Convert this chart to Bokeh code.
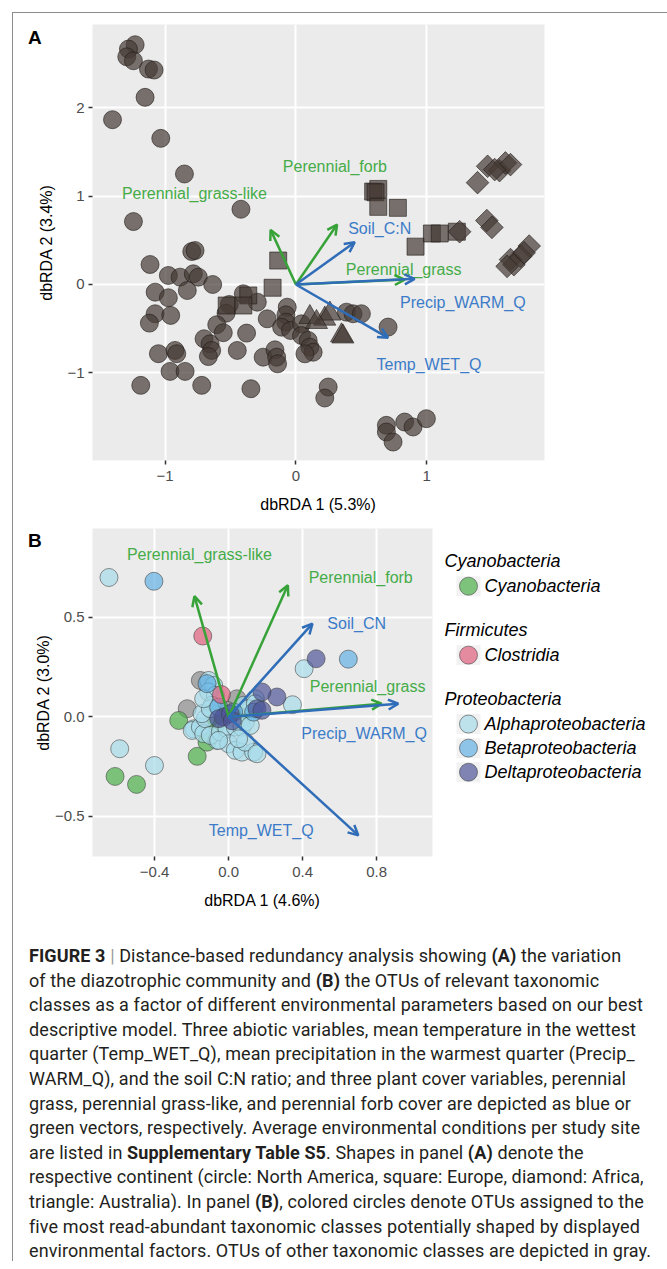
from bokeh.plotting import figure
from bokeh.models import ColumnDataSource, Arrow, OpenHead, FixedTicker, Range1d, Div
from bokeh.layouts import column, row
from bokeh.embed import file_html
from bokeh.resources import INLINE
from bokeh.core.properties import value
import math

FONT = "Liberation Sans"
RULE = "#8c8c8c"

# ---------------- Panel A data (site scores) ----------------
a_circle_x = [-1.229, -1.28, -1.293, -1.242, -1.127, -1.084, -1.153, -1.402, -1.033, -0.852, -0.42, -1.242,
              -0.796, -0.771, -1.115, -0.975, -0.885, -0.784, -0.746, -0.636, -1.076, -0.975, -0.83, -1.076,
              -0.957, -1.12, -0.402, -0.295, -0.509, -0.534, -0.605, -0.555, -0.377, -0.702, -0.656, -0.644,
              -0.669, -0.219, -0.066, -0.076, -0.076, -0.109, -0.041, 0.043, 0.043, 0.094, 0.107, 0.132,
              0.069, 0.387, 0.437, 0.501, 0.705, -1.051, -0.924, -0.911, -0.448, -0.25, -0.16, -0.147,
              -0.14, -0.962, -0.847, -1.186, -0.72, -0.344, 0.247, 0.221, 0.692, 0.692, 0.743, 0.832,
              0.896, 0.998]
a_circle_y = [2.712, 2.663, 2.576, 2.531, 2.437, 2.426, 2.117, 1.864, 1.653, 1.25, 0.851, 0.712,
              0.373, 0.384, 0.226, 0.102, 0.083, 0.121, 0.083, 0.0, -0.087, -0.15, -0.068, -0.331,
              -0.35, -0.437, -0.105, -0.2, -0.226, -0.325, -0.455, -0.545, -0.55, -0.614, -0.671, -0.746,
              -0.815, -0.388, -0.257, -0.343, -0.426, -0.483, -0.52, -0.445, -0.577, -0.633, -0.709, -0.766,
              -0.784, -0.313, -0.331, -0.331, -0.482, -0.783, -0.746, -0.783, -0.746, -0.822, -0.739, -0.822,
              -0.897, -0.983, -0.983, -1.141, -1.141, -1.179, -1.16, -1.284, -1.593, -1.669, -1.782, -1.556,
              -1.612, -1.518]
a_square_x = [0.591, 0.63, 0.609, 0.63, 0.78, 0.915, 1.04, 1.10, 1.231, -0.135, -0.178, -0.364, -0.529, -0.402]
a_square_y = [1.051, 1.081, 1.043, 0.878, 0.867, 0.428, 0.577, 0.577, 0.597, 0.271, -0.037, -0.124, -0.238, -0.238]
a_diamond_x = [1.389, 1.466, 1.557, 1.602, 1.641, 1.52, 1.252, 1.46, 1.499, 1.784, 1.719, 1.641, 1.667, 1.745, 1.615]
a_diamond_y = [1.152, 1.337, 1.288, 1.375, 1.356, 1.30, 0.597, 0.723, 0.646, 0.435, 0.32, 0.282, 0.224, 0.358, 0.205]
a_triangle_x = [0.107, 0.221, 0.26, 0.158, 0.349, 0.36]
a_triangle_y = [-0.37, -0.388, -0.331, -0.426, -0.577, -0.59]

# ---------------- Environmental vectors ----------------
vec_kind = ["plant", "plant", "abiotic", "plant", "abiotic", "abiotic"]
a_vec_names = ["Perennial_grass-like", "Perennial_forb", "Soil_C:N", "Perennial_grass", "Precip_WARM_Q", "Temp_WET_Q"]
a_vec_x = [-0.193, 0.315, 0.45, 0.832, 0.908, 0.705]
a_vec_y = [0.618, 0.678, 0.478, 0.056, 0.064, -0.603]
a_lab_x = [-0.776, 0.298, 0.641, 0.824, 1.277, 1.018]
a_lab_y = [1.032, 1.337, 0.636, 0.174, -0.2, -0.908]

b_vec_names = ["Perennial_grass-like", "Perennial_forb", "Soil_CN", "Perennial_grass", "Precip_WARM_Q", "Temp_WET_Q"]
b_vec_x = [-0.185, 0.32, 0.453, 0.827, 0.917, 0.701]
b_vec_y = [0.606, 0.661, 0.468, 0.066, 0.066, -0.595]
b_lab_x = [-0.158, 0.714, 0.692, 0.751, 0.732, 0.176]
b_lab_y = [0.815, 0.698, 0.468, 0.155, -0.081, -0.57]

# ---------------- Panel B data (OTU scores) ----------------
b_other_x = [-0.153, -0.224, 0.045, -0.009, 0.01]
b_other_y = [0.183, 0.041, 0.091, 0.033, 0.0]
b_alpha_x = [-0.647, 0.408, 0.345, -0.589, -0.401, -0.189, -0.108, -0.081, -0.108, -0.072, 0.081, 0.144, -0.09,
             -0.197, -0.153, -0.135, -0.126, -0.063, -0.099, -0.045, -0.009, 0.036, 0.072, 0.09, 0.117, 0.0,
             0.036, 0.072, 0.135, 0.09, 0.153, 0.054, -0.144, -0.099, 0.108, 0.144, -0.135, -0.054]
b_alpha_y = [0.70, 0.242, 0.061, -0.16, -0.244, -0.06, 0.183, 0.158, 0.125, 0.108, 0.058, 0.091, 0.058,
             -0.068, -0.051, -0.084, -0.009, -0.118, -0.093, -0.076, -0.059, -0.051, -0.051, -0.026, -0.043, -0.135,
             -0.168, -0.177, -0.177, -0.127, -0.185, -0.11, 0.016, 0.041, 0.041, 0.066, 0.091, -0.118]
b_beta_x = [-0.404, 0.647, 0.135, 0.027, -0.054, -0.117]
b_beta_y = [0.681, 0.29, 0.024, 0.024, 0.049, 0.167]
b_cyano_x = [-0.614, -0.498, -0.17, -0.27, -0.117, -0.081, -0.063, -0.072, 0.054, 0.072, -0.03]
b_cyano_y = [-0.299, -0.339, -0.198, -0.018, -0.127, 0.016, -0.009, -0.043, 0.008, -0.001, 0.0]
b_clost_x = [-0.14, -0.039]
b_clost_y = [0.406, 0.112]
b_delta_x = [0.473, 0.261, 0.18, 0.153, 0.18, -0.027, -0.054, 0.009, 0.02]
b_delta_y = [0.292, 0.1, 0.125, 0.041, 0.033, -0.001, -0.009, 0.016, -0.02]

# ---------------- Ticks ----------------
a_xticks = [-1, 0, 1]
a_xtick_labels = ["\u22121", "0", "1"]
a_yticks = [-2, -1, 0, 1, 2]
a_ytick_labels = ["\u22122", "\u22121", "0", "1", "2"]
b_xticks = [-0.4, 0.0, 0.4, 0.8]
b_xtick_labels = ["\u22120.4", "0.0", "0.4", "0.8"]
b_yticks = [-0.5, 0.0, 0.5]
b_ytick_labels = ["\u22120.5", "0.0", "0.5"]

# ---------------- Legend ----------------
legend_groups = ["Cyanobacteria", "Firmicutes", "Proteobacteria"]
legend_classes = [["Cyanobacteria"], ["Clostridia"],
                  ["Alphaproteobacteria", "Betaproteobacteria", "Deltaproteobacteria"]]
class_colors = {"Cyanobacteria": "#4daf4a", "Clostridia": "#e0607e", "Alphaproteobacteria": "#a6dcea",
                "Betaproteobacteria": "#62b0e4", "Deltaproteobacteria": "#4e5599", "Other": "#8c8c8c"}

KIND_ARROW = {"plant": "#36a238", "abiotic": "#2f6db8"}
KIND_TEXT = {"plant": "#45ac48", "abiotic": "#3b7bc8"}

caption_lines = [
    "<b>FIGURE 3</b> <span style='color:#9a9a9a'>|</span> Distance-based redundancy analysis showing <b>(A)</b> the variation",
    "of the diazotrophic community and <b>(B)</b> the OTUs of relevant taxonomic",
    "classes as a factor of different environmental parameters based on our best",
    "descriptive model. Three abiotic variables, mean temperature in the wettest",
    "quarter (Temp_WET_Q), mean precipitation in the warmest quarter (Precip_",
    "WARM_Q), and the soil C:N ratio; and three plant cover variables, perennial",
    "grass, perennial grass-like, and perennial forb cover are depicted as blue or",
    "green vectors, respectively. Average environmental conditions per study site",
    "are listed in <b>Supplementary Table S5</b>. Shapes in panel <b>(A)</b> denote the",
    "respective continent (circle: North America, square: Europe, diamond: Africa,",
    "triangle: Australia). In panel <b>(B)</b>, colored circles denote OTUs assigned to the",
    "five most read-abundant taxonomic classes potentially shaped by displayed",
    "environmental factors. OTUs of other taxonomic classes are depicted in gray.",
]


def style_axes(p, xticks, xlabels, yticks, ylabels, xtitle, ytitle, ystand):
    p.xaxis.ticker = FixedTicker(ticks=xticks)
    p.yaxis.ticker = FixedTicker(ticks=yticks)
    p.xgrid.ticker = FixedTicker(ticks=xticks)
    p.ygrid.ticker = FixedTicker(ticks=yticks)
    p.xaxis.major_label_overrides = {t: l for t, l in zip(xticks, xlabels)}
    p.yaxis.major_label_overrides = {t: l for t, l in zip(yticks, ylabels)}
    p.xaxis.axis_label = xtitle
    p.yaxis.axis_label = ytitle
    for ax in (p.xaxis[0], p.yaxis[0]):
        ax.axis_line_color = None
        ax.major_tick_line_color = "#333333"
        ax.major_tick_line_width = 1.5
        ax.major_tick_in = 0
        ax.major_tick_out = 4
        ax.minor_tick_line_color = None
        ax.major_label_text_font = FONT
        ax.major_label_text_font_size = "15px"
        ax.major_label_text_color = "#4d4d4d"
        ax.axis_label_text_font = FONT
        ax.axis_label_text_font_size = "16px"
        ax.axis_label_text_font_style = "normal"
        ax.axis_label_text_color = "#000000"
    p.xaxis.major_label_standoff = 6
    p.xaxis.axis_label_standoff = 12
    p.yaxis.major_label_standoff = 4
    p.yaxis.axis_label_standoff = ystand
    p.grid.grid_line_color = "white"
    p.grid.grid_line_width = 2
    p.grid.minor_grid_line_color = None


def add_vectors(p, vx, vy, names, lx, ly):
    for kind in ("plant", "abiotic"):
        idx = [i for i, k in enumerate(vec_kind) if k == kind]
        src = ColumnDataSource(dict(x0=[0.0] * len(idx), y0=[0.0] * len(idx),
                                    x1=[vx[i] for i in idx], y1=[vy[i] for i in idx]))
        p.add_layout(Arrow(source=src, x_start="x0", y_start="y0", x_end="x1", y_end="y1",
                           line_color=KIND_ARROW[kind], line_width=2.5,
                           end=OpenHead(size=10, line_color=KIND_ARROW[kind], line_width=2.5)))
    src_l = ColumnDataSource(dict(x=lx, y=ly, t=names, c=[KIND_TEXT[k] for k in vec_kind]))
    p.text(x="x", y="y", text="t", text_color="c", source=src_l, text_align="center",
           text_baseline="middle", text_font=value(FONT), text_font_size="16px")


TAGW = 17
FULLW = 655


def panel_tag(txt, h, top, top_rule):
    rule_html = ""
    if top_rule:
        rule_html = ("<div style='position:absolute;left:-1px;top:0;width:%dpx;height:1px;"
                     "background:%s;'></div>" % (FULLW, RULE))
    html = ("<div style='position:relative;box-sizing:border-box;width:%dpx;height:%dpx;"
            "border-left:1px solid %s;'>%s"
            "<div style=\"position:absolute;left:15px;top:%dpx;font-family:'Liberation Sans';"
            "font-weight:bold;font-size:19px;line-height:19px;white-space:nowrap;color:#000;\">%s</div>"
            "</div>" % (TAGW, h, RULE, rule_html, top, txt))
    return Div(text=html, width=TAGW, height=h, margin=0, styles={"overflow": "visible"})


# ---------------- Panel A ----------------
AW, AH = 654 - TAGW, 508
pA = figure(width=AW, height=AH, x_range=Range1d(-1.555, 1.901), y_range=Range1d(-1.991, 2.941),
            output_backend="svg", toolbar_location=None,
            min_border_left=63, min_border_right=122, min_border_top=12, min_border_bottom=60,
            background_fill_color="#ebebeb", border_fill_alpha=0, outline_line_color=None)
style_axes(pA, a_xticks, a_xtick_labels, a_yticks, a_ytick_labels, "dbRDA 1 (5.3%)", "dbRDA 2 (3.4%)", 9)

mk = dict(fill_color="#463a35", fill_alpha=0.7, line_color="#1f1a18", line_alpha=0.6, line_width=1)
pA.scatter(a_circle_x, a_circle_y, marker="circle", size=18, **mk)
pA.scatter(a_square_x, a_square_y, marker="square", size=17, **mk)
pA.scatter(a_diamond_x, a_diamond_y, marker="square", size=16, angle=math.pi / 4, **mk)
pA.scatter(a_triangle_x, a_triangle_y, marker="triangle", size=22, **mk)
add_vectors(pA, a_vec_x, a_vec_y, a_vec_names, a_lab_x, a_lab_y)

# ---------------- Panel B ----------------
BW, BH = 427 - TAGW, 395
pB = figure(width=BW, height=BH, x_range=Range1d(-0.736, 1.102), y_range=Range1d(-0.701, 0.946),
            output_backend="svg", toolbar_location=None,
            min_border_left=63, min_border_right=7, min_border_top=8, min_border_bottom=59,
            background_fill_color="#ebebeb", border_fill_alpha=0, outline_line_color=None)
style_axes(pB, b_xticks, b_xtick_labels, b_yticks, b_ytick_labels, "dbRDA 1 (4.6%)", "dbRDA 2 (3.0%)", 0)

pt = dict(size=18, fill_alpha=0.7, line_color="#3a3a3a", line_alpha=0.55, line_width=1)
pB.scatter(b_other_x, b_other_y, fill_color=class_colors["Other"], **pt)
pB.scatter(b_cyano_x, b_cyano_y, fill_color=class_colors["Cyanobacteria"], **pt)
pB.scatter(b_alpha_x, b_alpha_y, fill_color=class_colors["Alphaproteobacteria"], **pt)
pB.scatter(b_beta_x, b_beta_y, fill_color=class_colors["Betaproteobacteria"], **pt)
pB.scatter(b_clost_x, b_clost_y, fill_color=class_colors["Clostridia"], **pt)
pB.scatter(b_delta_x, b_delta_y, fill_color=class_colors["Deltaproteobacteria"], **pt)
add_vectors(pB, b_vec_x, b_vec_y, b_vec_names, b_lab_x, b_lab_y)

# ---------------- Legend panel ----------------
LW, LH = 227, 395
pL = figure(width=LW, height=LH, x_range=Range1d(0, LW), y_range=Range1d(LH, 0),
            output_backend="svg", toolbar_location=None, min_border=0,
            x_axis_location=None, y_axis_location=None, outline_line_color=None,
            background_fill_alpha=0, border_fill_alpha=0)
pL.grid.visible = False
hx, hy, ey, et, ec = [], [], [], [], []
ycur = 39.5
for g, classes in zip(legend_groups, legend_classes):
    hx.append(5); hy.append(ycur)
    ycur += 30
    for c in classes:
        ey.append(ycur); et.append(c); ec.append(class_colors[c])
        ycur += 29
    ycur += 24
pL.text(x=hx, y=hy, text=legend_groups, text_font=value(FONT), text_font_size="18px",
        text_font_style="italic", text_baseline="middle", text_color="#000000")
pL.rect(x=[29] * len(ey), y=ey, width=24, height=24, fill_color="#f2f2f2", line_color=None)
pL.scatter(x=[29] * len(ey), y=ey, size=18, fill_color=ec, fill_alpha=0.7,
           line_color="#3a3a3a", line_alpha=0.55, line_width=1)
pL.text(x=[45] * len(ey), y=ey, text=et, text_font=value(FONT), text_font_size="18px",
        text_font_style="italic", text_baseline="middle", text_color="#000000")

# ---------------- Caption ----------------
CH = 346
cap_html = ("<div style='box-sizing:border-box;height:%dpx;border-left:1px solid %s;padding:29px 0 0 16px;'>"
            "<div style=\"font-family:Roboto; font-size:18px; letter-spacing:0.1px; line-height:24.6px; "
            "color:#231f20; white-space:nowrap;\">" % (CH, RULE)
            + "<br>".join(caption_lines) + "</div></div>")
cap = Div(text=cap_html, width=654, height=CH, margin=0)

layout = column(row(panel_tag("A", AH, 16, True), pA),
                row(panel_tag("B", BH, 11, False), pB, pL),
                cap, margin=(12, 0, 0, 12))

open("out.html", "w").write(file_html(layout, INLINE))
